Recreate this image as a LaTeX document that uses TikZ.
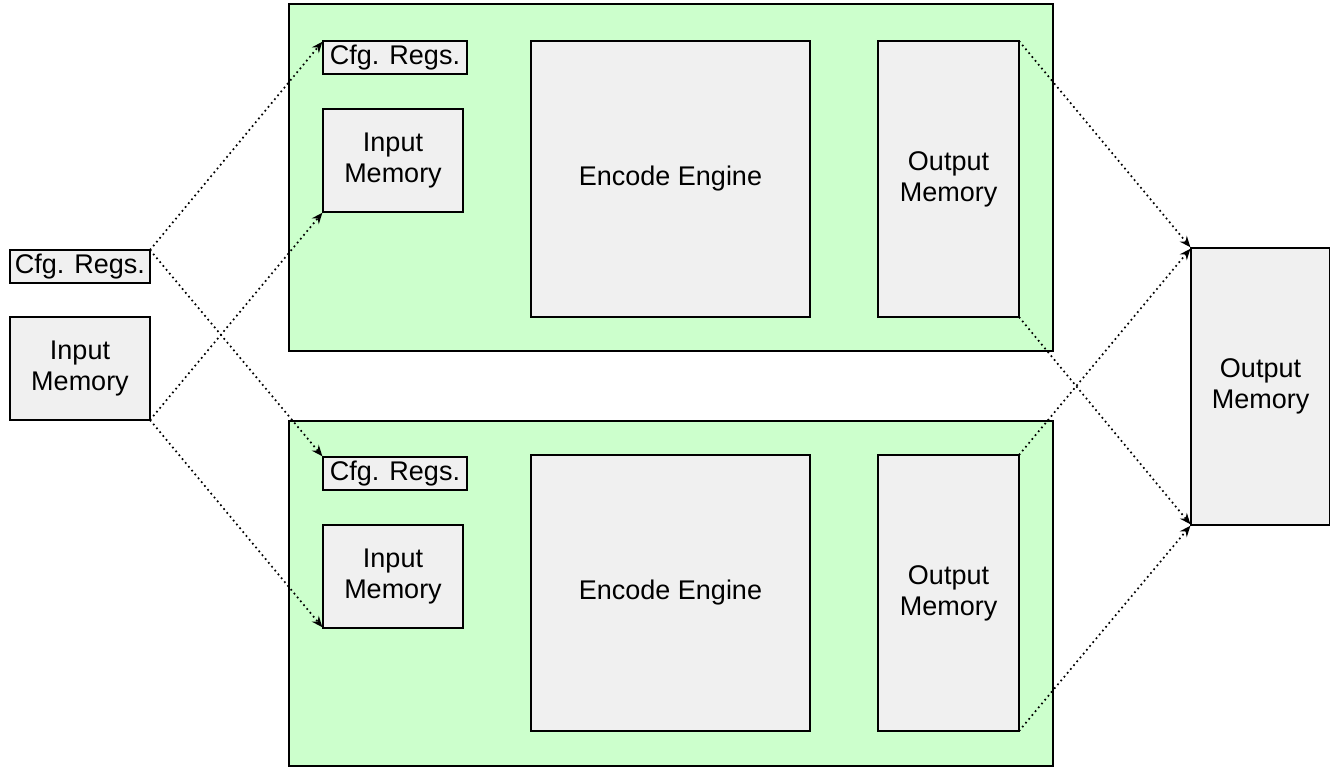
\documentclass[tikz,border=0pt]{standalone}
\usepackage{fontspec}
\setmainfont{Liberation Sans}
\usetikzlibrary{arrows.meta}
\definecolor{panelgreen}{HTML}{CCFFCC}
\definecolor{boxgrey}{HTML}{F0F0F0}
\tikzset{
  panel/.style={draw=black, fill=panelgreen, line width=2pt, anchor=north west, outer sep=0pt, inner sep=0pt},
  blk/.style={draw=black, fill=boxgrey, line width=2pt, anchor=north west, outer sep=0pt, inner sep=0pt,
    align=center, font=\fontsize{27}{31}\selectfont},
  link/.style={line width=1.7pt, dash pattern=on 1.7pt off 3.3pt,
    -{Stealth[length=11pt,width=9pt]}, shorten >=1pt},
}
% place a box by its pixel extents: name, x1, y1, x2, y2, style, text
\newcommand{\pxbox}[7]{%
  \node[#6, minimum width={(#4-#2)*1pt}, minimum height={(#5-#3)*1pt}] (#1) at (#2pt,-#3pt) {#7};}
\begin{document}
\begin{tikzpicture}
\useasboundingbox (0pt,0pt) rectangle (1330pt,-767pt);

% two encoder panels
\pxbox{ptop}{289}{4}{1053}{351}{panel}{}
\pxbox{pbot}{289}{421}{1053}{766}{panel}{}

% upper encoder
\pxbox{tcfg}{323}{41}{467}{74}{blk}{Cfg. Regs.}
\pxbox{tin}{323}{109}{463}{212}{blk}{Input\\Memory}
\pxbox{tenc}{531}{41}{810}{317}{blk}{Encode Engine}
\pxbox{tout}{878}{41}{1019}{317}{blk}{Output\\Memory}

% lower encoder
\pxbox{bcfg}{323}{457}{467}{490}{blk}{Cfg. Regs.}
\pxbox{bin}{323}{525}{463}{628}{blk}{Input\\Memory}
\pxbox{benc}{531}{455}{810}{731}{blk}{Encode Engine}
\pxbox{bout}{878}{455}{1019}{731}{blk}{Output\\Memory}

% shared inputs
\pxbox{lcfg}{10}{250}{150}{283}{blk}{Cfg. Regs.}
\pxbox{lin}{10}{317}{150}{420}{blk}{Input\\Memory}

% shared output
\pxbox{rout}{1191}{248}{1330}{525}{blk}{Output\\Memory}

% distribution of configuration and input data
\draw[link] (lcfg.north east) -- (tcfg.north west);
\draw[link] (lcfg.north east) -- (bcfg.north west);
\draw[link] (lin.south east) -- (tin.south west);
\draw[link] (lin.south east) -- (bin.south west);

% collection of encoded output
\draw[link] (tout.north east) -- (rout.north west);
\draw[link] (tout.south east) -- (rout.south west);
\draw[link] (bout.north east) -- (rout.north west);
\draw[link] (bout.south east) -- (rout.south west);
\end{tikzpicture}
\end{document}
